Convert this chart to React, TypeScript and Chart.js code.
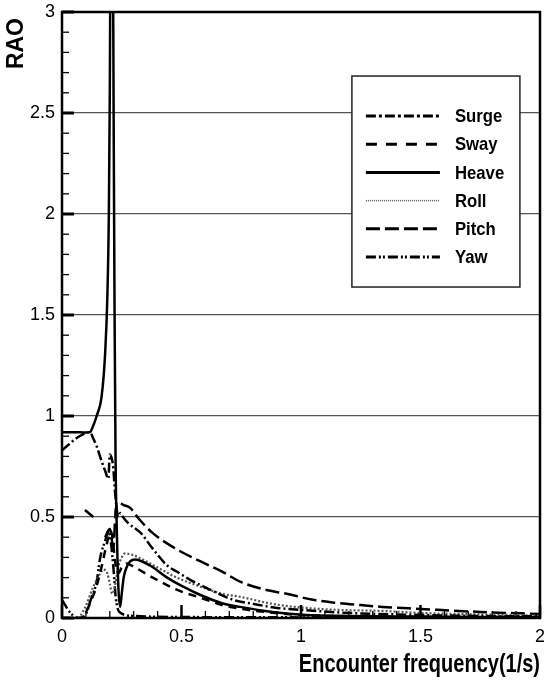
import React, { useEffect, useRef } from 'react';
import { Chart, registerables } from 'chart.js';

Chart.register(...registerables);

const seriesNames = ['Surge', 'Sway', 'Heave', 'Roll', 'Pitch', 'Yaw'];
const xTickLabels = ['0', '0.5', '1', '1.5', '2'];
const yTickLabels = ['0', '0.5', '1', '1.5', '2', '2.5', '3'];
const xAxisTitle = 'Encounter frequency(1/s)';
const yAxisTitle = 'RAO';

const surgeFreq = [0, 0.03, 0.06, 0.09, 0.117, 0.13, 0.145, 0.166, 0.18, 0.194, 0.2, 0.208, 0.215, 0.22, 0.228, 0.235, 0.245, 0.255, 0.277, 0.33, 0.375, 0.44, 0.48, 0.535, 0.62, 0.716, 0.8, 0.9, 1.0, 1.2, 1.5, 1.75, 2];
const surgeRao = [0.83, 0.86, 0.89, 0.91, 0.92, 0.89, 0.85, 0.775, 0.73, 0.69, 0.81, 0.79, 0.74, 0.65, 0.55, 0.5, 0.52, 0.5, 0.47, 0.42, 0.35, 0.26, 0.23, 0.19, 0.14, 0.09, 0.07, 0.05, 0.04, 0.025, 0.015, 0.01, 0.008];

const swayFreq = [0, 0.08, 0.1, 0.12, 0.145, 0.165, 0.18, 0.195, 0.205, 0.215, 0.222, 0.235, 0.25, 0.27, 0.29, 0.38, 0.48, 0.58, 0.67, 0.75, 0.85, 1.0, 1.2, 1.5, 2];
const swayRao = [0, 0, 0.03, 0.08, 0.16, 0.25, 0.33, 0.4, 0.43, 0.36, 0.28, 0.22, 0.25, 0.27, 0.26, 0.2, 0.14, 0.1, 0.064, 0.045, 0.03, 0.015, 0.008, 0.004, 0.002];

const heaveFreq = [0, 0.05, 0.1, 0.117, 0.13, 0.145, 0.166, 0.18, 0.19, 0.196, 0.2, 0.204, 0.212, 0.216, 0.22, 0.224, 0.23, 0.236, 0.243, 0.25, 0.258, 0.27, 0.285, 0.305, 0.368, 0.44, 0.507, 0.577, 0.67, 0.745, 0.88, 1.02, 1.2, 1.5, 1.75, 2];
const heaveRao = [0.92, 0.92, 0.918, 0.92, 0.95, 1.0, 1.1, 1.3, 1.6, 2.0, 2.6, 3.5, 3.5, 2.5, 1.5, 0.8, 0.4, 0.15, 0.055, 0.12, 0.2, 0.25, 0.28, 0.29, 0.26, 0.2, 0.155, 0.115, 0.073, 0.055, 0.03, 0.015, 0.01, 0.007, 0.005, 0.004];

const rollFreq = [0, 0.07, 0.082, 0.1, 0.131, 0.155, 0.173, 0.19, 0.2, 0.21, 0.22, 0.235, 0.25, 0.264, 0.3, 0.4, 0.48, 0.58, 0.67, 0.745, 0.88, 1.02, 1.16, 1.34, 1.5, 1.75, 2];
const rollRao = [0, 0, 0.02, 0.06, 0.155, 0.21, 0.24, 0.22, 0.17, 0.12, 0.15, 0.25, 0.3, 0.32, 0.31, 0.25, 0.2, 0.155, 0.12, 0.105, 0.07, 0.05, 0.04, 0.035, 0.025, 0.018, 0.012];

const pitchFreq = [0.096, 0.131, 0.15, 0.18, 0.2, 0.215, 0.225, 0.24, 0.256, 0.285, 0.326, 0.38, 0.48, 0.58, 0.67, 0.745, 0.85, 0.94, 1.05, 1.15, 1.25, 1.34, 1.5, 1.75, 2];
const pitchRao = [0.535, 0.5, null, 0.4, 0.44, 0.35, 0.54, 0.57, 0.56, 0.545, 0.485, 0.42, 0.34, 0.28, 0.23, 0.18, 0.14, 0.12, 0.09, 0.075, 0.064, 0.055, 0.045, 0.03, 0.02];

const yawFreq = [0, 0.01, 0.02, 0.035, 0.05, 0.07, 0.1, 0.12, 0.145, 0.16, 0.18, 0.195, 0.205, 0.215, 0.225, 0.24, 0.3, 0.5, 1, 1.5, 2];
const yawRao = [0.09, 0.07, 0.05, 0.025, 0.01, 0, 0.02, 0.09, 0.18, 0.3, 0.38, 0.43, 0.37, 0.25, 0.1, 0.03, 0.01, 0.005, 0.003, 0.002, 0.002];

const FONT = "'Liberation Sans', Arial, sans-serif";

const seriesFreq = [surgeFreq, swayFreq, heaveFreq, rollFreq, pitchFreq, yawFreq];
const seriesRao = [surgeRao, swayRao, heaveRao, rollRao, pitchRao, yawRao];
const seriesDash = [[10, 3, 2, 3], [8, 6], [], [2, 2], [14, 5], [10, 3, 2, 2, 2, 3]];
const legendDash = [[10, 3, 3, 3], [11, 9], [], [1, 1], [14, 5], [10, 3, 2, 2, 2, 3]];
const seriesColor = ['#000', '#000', '#000', '#555', '#000', '#000'];

const framePlugin = {
  id: 'frameTicks',
  afterDatasetsDraw(chart: any) {
    const { ctx, chartArea: a, scales } = chart;
    ctx.save();
    ctx.setLineDash([]);
    ctx.strokeStyle = '#000';
    for (let i = 0; i <= 30; i++) {
      const y = scales.y.getPixelForValue(i / 10);
      const major = i % 5 === 0;
      ctx.lineWidth = major ? 3 : 1.3;
      ctx.beginPath();
      ctx.moveTo(a.left, y);
      ctx.lineTo(a.left + (major ? 12 : 7), y);
      ctx.stroke();
    }
    for (let i = 0; i <= 20; i++) {
      const x = scales.x.getPixelForValue(i / 10);
      const major = i % 5 === 0;
      ctx.lineWidth = major ? 2.5 : 1.3;
      ctx.beginPath();
      ctx.moveTo(x, a.bottom);
      ctx.lineTo(x, a.bottom - (major ? 13 : 7));
      ctx.stroke();
    }
    ctx.lineWidth = 2.5;
    ctx.strokeRect(a.left, a.top, a.right - a.left, a.bottom - a.top);

    // legend box
    const bl = scales.x.getPixelForValue(1.213);
    const bt = scales.y.getPixelForValue(2.683);
    const bw = 168;
    const bh = 211;
    ctx.fillStyle = '#fff';
    ctx.fillRect(bl, bt, bw, bh);
    ctx.lineWidth = 1.5;
    ctx.strokeStyle = '#222';
    ctx.strokeRect(bl, bt, bw, bh);
    ctx.textBaseline = 'middle';
    ctx.textAlign = 'left';
    seriesNames.forEach((name, i) => {
      const y = bt + 40 + i * 28.2;
      ctx.beginPath();
      ctx.setLineDash(legendDash[i]);
      ctx.lineWidth = i === 3 ? 1.5 : 3;
      ctx.strokeStyle = seriesColor[i];
      ctx.moveTo(bl + 14, y);
      ctx.lineTo(bl + 88, y);
      ctx.stroke();
      ctx.setLineDash([]);
      ctx.fillStyle = '#000';
      ctx.save();
      ctx.translate(bl + 103, y + 1);
      ctx.scale(0.88, 1);
      ctx.font = `bold 19px ${FONT}`;
      ctx.fillText(name, 0, 0);
      ctx.restore();
    });

    // axis titles
    ctx.fillStyle = '#000';
    ctx.save();
    ctx.translate(a.right, chart.height - 19);
    ctx.scale(0.8, 1);
    ctx.font = `bold 25px ${FONT}`;
    ctx.textAlign = 'right';
    ctx.textBaseline = 'middle';
    ctx.fillText(xAxisTitle, 0, 0);
    ctx.restore();

    ctx.save();
    ctx.translate(17, a.top + 6);
    ctx.rotate(-Math.PI / 2);
    ctx.font = `bold 23px ${FONT}`;
    ctx.textAlign = 'right';
    ctx.textBaseline = 'middle';
    ctx.fillText(yAxisTitle, 0, 0);
    ctx.restore();
    ctx.restore();
  },
};

export default function App() {
  const ref = useRef<HTMLCanvasElement | null>(null);
  useEffect(() => {
    document.body.style.margin = '0';
    const canvas = ref.current;
    if (!canvas) return;
    const datasets = seriesNames.map((name, i) => ({
      label: name,
      data: seriesFreq[i].map((f, j) => ({ x: f, y: seriesRao[i][j] })),
      borderColor: seriesColor[i],
      borderWidth: i === 3 ? 2.2 : 2.5,
      borderDash: seriesDash[i],
      pointRadius: 0,
      fill: false,
      spanGaps: false,
      cubicInterpolationMode: 'monotone' as const,
    }));
    const chart = new Chart(canvas, {
      type: 'line',
      data: { datasets },
      options: {
        animation: false,
        responsive: false,
        maintainAspectRatio: false,
        layout: { padding: { top: 12, right: 4, left: 0, bottom: 0 } },
        plugins: { legend: { display: false }, tooltip: { enabled: false } },
        scales: {
          x: {
            type: 'linear',
            min: 0,
            max: 2,
            afterFit: (s: any) => {
              s.height = 66;
              s.paddingLeft = 0;
              s.paddingRight = 0;
            },
            ticks: {
              stepSize: 0.5,
              maxRotation: 0,
              autoSkip: false,
              padding: 8,
              color: '#000',
              font: { family: FONT, size: 18 },
              callback: (v: any) => xTickLabels[Math.round(Number(v) * 2)] ?? '',
            },
            grid: { display: false, drawTicks: false },
            border: { display: false },
          },
          y: {
            type: 'linear',
            min: 0,
            max: 3,
            afterFit: (s: any) => {
              s.width = 62;
              s.paddingTop = 0;
              s.paddingBottom = 0;
            },
            ticks: {
              stepSize: 0.5,
              autoSkip: false,
              padding: 7,
              color: '#000',
              font: { family: FONT, size: 18 },
              callback: (v: any) => yTickLabels[Math.round(Number(v) * 2)] ?? '',
            },
            grid: {
              drawTicks: false,
              lineWidth: 1.3,
              color: (c: any) => (c.tick && c.tick.value > 0 && c.tick.value < 3 ? '#555' : 'rgba(0,0,0,0)'),
            },
            border: { display: false },
          },
        },
      },
      plugins: [framePlugin],
    });
    return () => chart.destroy();
  }, []);
  return <canvas ref={ref} width={544} height={684} style={{ display: 'block' }} />;
}
